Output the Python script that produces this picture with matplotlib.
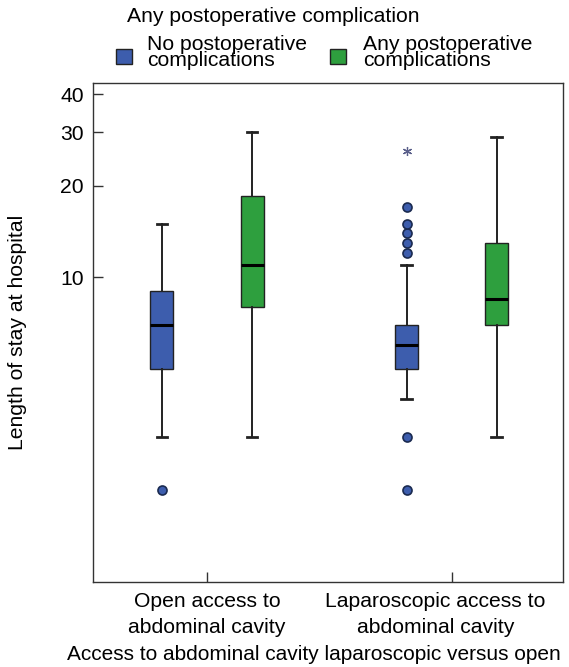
import matplotlib
matplotlib.use("Agg")
import matplotlib.pyplot as plt
import matplotlib.transforms as mtransforms
from matplotlib.patches import Rectangle

plt.rcParams['font.family'] = ['Liberation Sans', 'DejaVu Sans']

# ---- data ----
groups = ["Open access to\nabdominal cavity", "Laparoscopic access to\nabdominal cavity"]
series = ["No postoperative\ncomplications", "Any postoperative\ncomplications"]
colors = ["#3d5dad", "#2e9f3e"]

# [open, laparoscopic]
no_whislo = [3, 4]
no_q1 = [5, 5]
no_med = [7, 6]
no_q3 = [9, 7]
no_whishi = [15, 11]
no_outliers = [[2], [2, 3, 12, 13, 14, 15, 17]]
no_extremes = [[], [26]]

any_whislo = [3, 3]
any_q1 = [8, 7]
any_med = [11, 8.5]
any_q3 = [18.5, 13]
any_whishi = [30, 29]
any_outliers = [[], []]
any_extremes = [[], []]

yticks = [10, 20, 30, 40]
xlabel = "Access to abdominal cavity laparoscopic versus open"
ylabel = "Length of stay at hospital"
legend_title = "Any postoperative complication"

FS = 15.2

# ---- figure ----
fig = plt.figure(figsize=(5.69, 6.67), dpi=100)
W, H = 569, 667
ax = fig.add_axes([93 / W, 1 - 582 / H, 470 / W, 499 / H])
ax.set_yscale('log')

offset = 0.184
width = 0.094
series_stats = [
    (no_whislo, no_q1, no_med, no_q3, no_whishi, no_outliers, no_extremes),
    (any_whislo, any_q1, any_med, any_q3, any_whishi, any_outliers, any_extremes),
]
for si, (wl, q1, med, q3, wh, outl, ext) in enumerate(series_stats):
    stats = []
    for gi in range(len(groups)):
        stats.append(dict(whislo=wl[gi], q1=q1[gi], med=med[gi], q3=q3[gi],
                          whishi=wh[gi], fliers=outl[gi]))
    pos = [gi + (si - 0.5) * 2 * offset for gi in range(len(groups))]
    ax.bxp(stats, positions=pos, widths=width, patch_artist=True,
           showfliers=True,
           boxprops=dict(facecolor=colors[si], edgecolor="#222222", linewidth=1.0),
           medianprops=dict(color="black", linewidth=2.2),
           whiskerprops=dict(color="#222222", linewidth=1.4),
           capprops=dict(color="#222222", linewidth=2.0),
           capwidths=0.044,
           flierprops=dict(marker='o', markersize=6.5, markerfacecolor=colors[si],
                           markeredgecolor="#1a2a50", markeredgewidth=1.2,
                           linestyle='none'))
    for gi in range(len(groups)):
        if ext[gi]:
            ax.plot([pos[gi]] * len(ext[gi]), ext[gi], linestyle='none',
                    marker=(6, 2, 0), markersize=6.5, color="#5a5f8a",
                    markeredgewidth=0.9)

ax.set_xlim(-0.466, 1.455)
ax.set_ylim(1.0, 43.5)
ax.set_yticks(yticks)
ax.set_yticklabels([str(v) for v in yticks])
ax.yaxis.set_minor_locator(matplotlib.ticker.NullLocator())
ax.set_xticks(range(len(groups)))
ax.set_xticklabels(groups, linespacing=1.5)
ax.tick_params(axis='both', direction='in', length=7, width=1.0,
               labelsize=FS, color="#333333")
ax.tick_params(axis='x', pad=7)
ax.tick_params(axis='y', pad=6.5)
for sp in ax.spines.values():
    sp.set_color("#333333")
    sp.set_linewidth(1.0)

# shift second x tick label to the left as in reference
lbls = ax.get_xticklabels()
shift = mtransforms.ScaledTranslation(-16 / 100, 0, fig.dpi_scale_trans)
lbls[1].set_transform(lbls[1].get_transform() + shift)

ax.set_ylabel(ylabel, fontsize=FS)
ax.yaxis.set_label_coords(-(93 - 27) / 470, 0.5)
ax.set_xlabel(xlabel, fontsize=15.0)
ax.xaxis.set_label_coords((313.5 - 93) / 470, -(655 - 582) / 499)
ax.xaxis.label.set_va('center')

# ---- legend (title, swatches, labels) ----
fig.text(127 / W, 1 - 17 / H, legend_title, fontsize=FS, ha='left', va='center')
swatch_x = [116, 330]
text_x = [147, 363]
for si in range(len(series)):
    fig.add_artist(Rectangle((swatch_x[si] / W, 1 - 63.5 / H), 16 / W, 15 / H,
                             transform=fig.transFigure, facecolor=colors[si],
                             edgecolor="#222222", linewidth=1.0))
    fig.text(text_x[si] / W, 1 - 52.5 / H, series[si], fontsize=FS,
             ha='left', va='center', linespacing=0.85)

fig.savefig("out.png", dpi=100)
